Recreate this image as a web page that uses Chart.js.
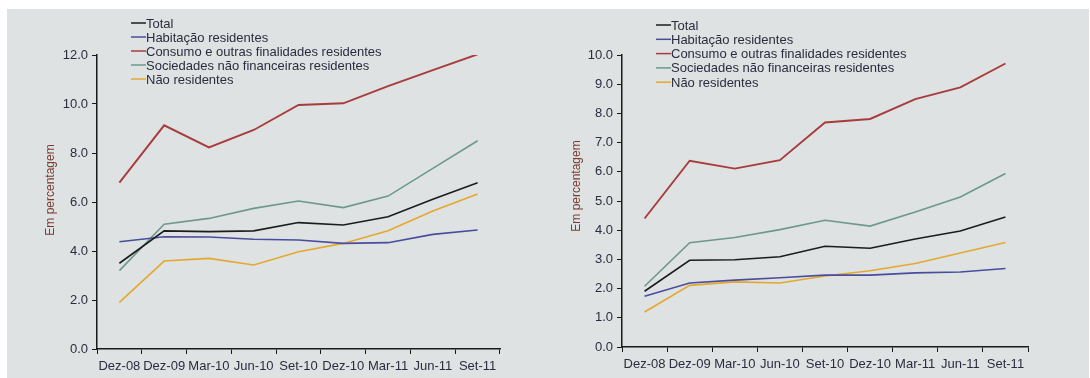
<!DOCTYPE html>
<html>
<head>
<meta charset="utf-8">
<script src="https://cdn.jsdelivr.net/npm/chart.js@4/dist/chart.umd.min.js"></script>
<style>
    html, body { margin: 0; padding: 0; background: #ffffff; }
    body { width: 1090px; height: 378px; position: relative; overflow: hidden; }
    #painel { position: absolute; left: 7px; top: 9px; width: 1082px; height: 369px; background: #dee2e3; }
    .grafico { position: absolute; top: 9px; height: 369px; }
    #g1 { left: 7px; width: 538px; }
    #g2 { left: 545px; width: 544px; }
</style>
</head>
<body>
<div id="painel"></div>
<div class="grafico" id="g1"><canvas id="taxasStock"></canvas></div>
<div class="grafico" id="g2"><canvas id="taxasNovas"></canvas></div>
<script>
    // ===== Dados =====
    const meses = ["Dez-08", "Dez-09", "Mar-10", "Jun-10", "Set-10", "Dez-10", "Mar-11", "Jun-11", "Set-11"];
    const series = ["Total", "Habitação residentes", "Consumo e outras finalidades residentes",
        "Sociedades não financeiras residentes", "Não residentes"];
    const cores = ["#1c1c1c", "#4c4c9c", "#a83c3c", "#6c9a8a", "#e5a82e"];
    const tituloY = "Em percentagem";

    // gráfico da esquerda
    const esqTotal = [3.5, 4.82, 4.79, 4.82, 5.16, 5.06, 5.4, 6.11, 6.79];
    const esqHabitacao = [4.38, 4.58, 4.57, 4.48, 4.45, 4.31, 4.34, 4.68, 4.86];
    const esqConsumo = [6.79, 9.13, 8.23, 8.94, 9.96, 10.03, 10.73, 11.38, 12.03];
    const esqSociedades = [3.2, 5.09, 5.33, 5.74, 6.04, 5.77, 6.24, 7.37, 8.5];
    const esqNaoResidentes = [1.9, 3.59, 3.7, 3.43, 3.97, 4.31, 4.83, 5.63, 6.33];

    // gráfico da direita
    const dirTotal = [1.91, 2.97, 2.99, 3.09, 3.45, 3.38, 3.7, 3.97, 4.45];
    const dirHabitacao = [1.74, 2.19, 2.29, 2.37, 2.46, 2.46, 2.54, 2.57, 2.69];
    const dirConsumo = [4.4, 6.38, 6.11, 6.4, 7.69, 7.81, 8.49, 8.89, 9.71];
    const dirSociedades = [2.08, 3.57, 3.75, 4.02, 4.34, 4.14, 4.62, 5.14, 5.94];
    const dirNaoResidentes = [1.2, 2.11, 2.23, 2.19, 2.43, 2.61, 2.86, 3.22, 3.58];

    const fonte = "'Liberation Sans', Arial, sans-serif";
    const corTexto = "#2c2c3e";

    // ===== Legenda e título do eixo desenhados por cima do gráfico =====
    const legendaLivre = {
        id: "legendaLivre",
        afterDraw(chart, args, opts) {
            const c = chart.ctx;
            c.save();
            c.font = "13px " + fonte;
            c.textBaseline = "middle";
            chart.data.datasets.forEach((ds, i) => {
                const y = opts.y + i * opts.passo;
                c.strokeStyle = ds.borderColor;
                c.lineWidth = 1.5;
                c.beginPath();
                c.moveTo(opts.x, y);
                c.lineTo(opts.x + 15, y);
                c.stroke();
                c.fillStyle = corTexto;
                c.fillText(ds.label, opts.x + 15, y + 1);
            });

            // título do eixo vertical
            c.translate(opts.tx, opts.ty);
            c.rotate(-Math.PI / 2);
            c.font = "12px " + fonte;
            c.textAlign = "center";
            c.fillStyle = "#7a3b2e";
            c.fillText(tituloY, 0, 0);
            c.restore();
        }
    };

    function criarGrafico(id, valores, cfg) {
        const ctx = document.getElementById(id).getContext("2d");
        return new Chart(ctx, {
            type: "line",
            data: {
                labels: meses,
                datasets: valores.map((v, i) => ({
                    label: series[i],
                    data: v,
                    borderColor: cores[i],
                    borderWidth: i === 2 ? 1.9 : 1.6,
                    pointRadius: 0,
                    fill: false,
                    tension: 0
                }))
            },
            options: {
                responsive: true,
                maintainAspectRatio: false,
                animation: false,
                layout: { padding: cfg.padding },
                plugins: {
                    legend: { display: false },
                    tooltip: { enabled: false },
                    legendaLivre: cfg.legenda
                },
                scales: {
                    x: {
                        offset: true,
                        afterFit(s) { s.height = cfg.alturaX; },
                        border: { display: true, color: "#1a1a1a", width: 1.5 },
                        grid: { offset: true, drawOnChartArea: false, drawTicks: true, tickLength: 5, color: "#1a1a1a" },
                        ticks: { autoSkip: false, maxRotation: 0, padding: 5, color: corTexto, font: { family: fonte, size: 13 } }
                    },
                    y: {
                        min: 0,
                        max: cfg.max,
                        afterFit(s) { s.width = cfg.larguraY; },
                        border: { display: true, color: "#1a1a1a", width: 1.5 },
                        grid: { drawOnChartArea: false, drawTicks: true, tickLength: 5, color: "#1a1a1a" },
                        ticks: {
                            stepSize: cfg.passo,
                            padding: 4,
                            color: corTexto,
                            font: { family: fonte, size: 13 },
                            callback: v => v.toFixed(1)
                        }
                    }
                }
            },
            plugins: [legendaLivre]
        });
    }

    criarGrafico("taxasStock",
        [esqTotal, esqHabitacao, esqConsumo, esqSociedades, esqNaoResidentes],
        {
            max: 12, passo: 2,
            padding: { left: 0, right: 45, top: 46, bottom: 0 },
            larguraY: 90, alturaX: 29,
            legenda: { x: 124, y: 14, passo: 14, tx: 44, ty: 181 }
        });

    criarGrafico("taxasNovas",
        [dirTotal, dirHabitacao, dirConsumo, dirSociedades, dirNaoResidentes],
        {
            max: 10, passo: 1,
            padding: { left: 0, right: 61, top: 46, bottom: 0 },
            larguraY: 77, alturaX: 31,
            legenda: { x: 111, y: 16, passo: 14.3, tx: 32, ty: 177 }
        });
</script>
</body>
</html>
